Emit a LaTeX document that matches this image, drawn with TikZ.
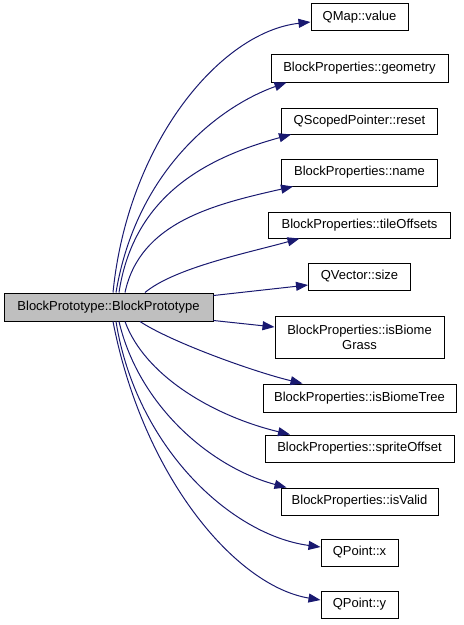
\documentclass[tikz,border=0pt]{standalone}
\usepackage{fontspec}
\setmainfont{Liberation Sans}
\usetikzlibrary{arrows.meta}
\definecolor{edgeblue}{RGB}{25,25,112}
\tikzset{
	fn/.style={draw, line width=1pt, fill=white, minimum height=27pt, inner sep=0pt, font=\fontsize{13}{15}\selectfont},
	call/.style={draw=edgeblue, line width=1pt, -{Triangle[length=12pt,width=9pt]}, fill=none}
}

\begin{document}
\begin{tikzpicture}[x=1pt,y=-1pt]
						\useasboundingbox (0,0) rectangle (464,625);
						
						\node[fn, fill={rgb,255:red,191;green,191;blue,191}, minimum width=209pt, minimum height=28pt] (main) at (108.5,307) {BlockPrototype::BlockPrototype};
						
						\node[fn, minimum width=97pt] (value) at (359.5,17) {QMap::value};
						\node[fn, minimum width=177pt, minimum height=28pt] (geometry) at (359.5,68) {BlockProperties::geometry};
						\node[fn, minimum width=156pt, minimum height=26pt] (reset) at (359.5,121) {QScopedPointer::reset};
						\node[fn, minimum width=156pt] (name) at (359.5,172.5) {BlockProperties::name};
						\node[fn, minimum width=182pt, minimum height=26pt] (tileoffsets) at (359.5,225) {BlockProperties::tileOffsets};
						\node[fn, minimum width=102pt] (size) at (359.5,276.5) {QVector::size};
						\node[fn, minimum width=169pt, minimum height=42pt, align=center] (grass) at (359.5,337) {BlockProperties::isBiome\\Grass};
						\node[fn, minimum width=193pt, minimum height=28pt] (tree) at (359.5,398) {BlockProperties::isBiomeTree};
						\node[fn, minimum width=189pt] (sprite) at (359.5,448.5) {BlockProperties::spriteOffset};
						\node[fn, minimum width=157pt] (valid) at (359.5,501.5) {BlockProperties::isValid};
						\node[fn, minimum width=77pt] (px) at (359.5,552.5) {QPoint::x};
						\node[fn, minimum width=77pt] (py) at (359.5,604.5) {QPoint::y};
						
						\draw[call] ([xshift=4.5pt]main.north) .. controls +(15,-150) and +(-90,10) .. ([yshift=-5pt]value.west);
						\draw[call] ([xshift=7.5pt]main.north) .. controls +(20,-120) and +(-70,25) .. ([xshift=-73pt]geometry.south);
						\draw[call] ([xshift=10.5pt]main.north) .. controls +(15,-100) and +(-80,22) .. ([xshift=-68.5pt]reset.south);
						\draw[call] ([xshift=16.5pt]main.north) .. controls +(15,-70) and +(-80,18) .. ([xshift=-66.5pt]name.south);
						\draw[call] ([xshift=36.5pt]main.north) .. controls +(30,-25) and +(-50,14) .. ([xshift=-60pt]tileoffsets.south);
						\draw[call] ([yshift=-3pt]main.north east) -- ([yshift=-8.5pt]size.west);
						\draw[call] ([yshift=1pt]main.south east) -- ([yshift=10pt]grass.west);
						\draw[call] ([xshift=31.5pt]main.south) .. controls +(30,20) and +(-50,-12) .. ([xshift=-57pt]tree.north);
						\draw[call] ([xshift=16.5pt]main.south) .. controls +(20,55) and +(-75,-18) .. ([xshift=-69.5pt]sprite.north);
						\draw[call] ([xshift=10.5pt]main.south) .. controls +(20,85) and +(-75,-20) .. ([xshift=-73pt]valid.north);
						\draw[call] ([xshift=7.5pt]main.south) .. controls +(20,125) and +(-90,-12) .. ([yshift=5.5pt]px.west);
						\draw[call] ([xshift=4.5pt]main.south) .. controls +(30,155) and +(-85,-14) .. ([yshift=4.5pt]py.west);
					\end{tikzpicture}
\end{document}
